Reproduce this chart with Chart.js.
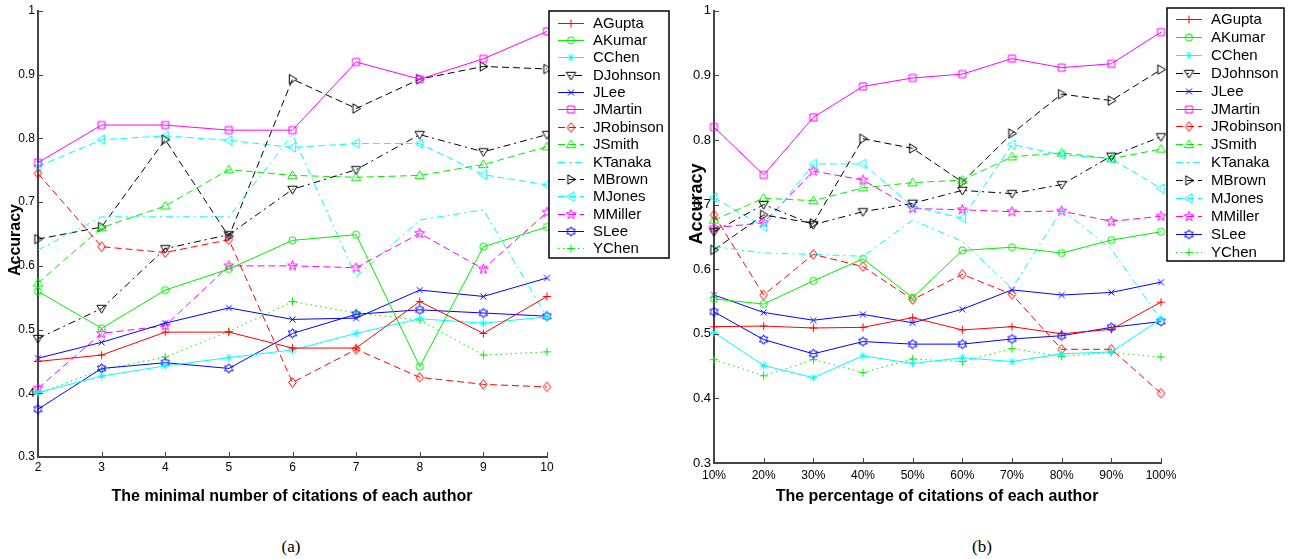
<!DOCTYPE html>
<html>
<head>
<meta charset="utf-8">
<script src="https://cdn.jsdelivr.net/npm/chart.js@4.4.1/dist/chart.umd.min.js"></script>
<style>
  body { margin: 0; background: #fff; width: 1294px; height: 559px; position: relative; overflow: hidden; }
  .panel { position: absolute; top: 0; height: 520px; }
  #pa { left: 0; width: 680px; }
  #pb { left: 680px; width: 614px; }
  .cap { position: absolute; top: 537px; transform: translateX(-50%);
         font-family: "Times New Roman", "Liberation Serif", serif; font-size: 17px; }
</style>
</head>
<body>
<div class="panel" id="pa"><canvas id="chartA"></canvas></div>
<div class="panel" id="pb"><canvas id="chartB"></canvas></div>
<div class="cap" style="left:291px">(a)</div>
<div class="cap" style="left:982px">(b)</div>
<script>
// --- data ---
const AUTHORS = ['AGupta', 'AKumar', 'CChen', 'DJohnson', 'JLee', 'JMartin', 'JRobinson',
  'JSmith', 'KTanaka', 'MBrown', 'MJones', 'MMiller', 'SLee', 'YChen'];

// (a) minimal number of citations of each author
const citeLabels = ['2', '3', '4', '5', '6', '7', '8', '9', '10'];
const AGupta_a    = [0.450, 0.460, 0.496, 0.496, 0.471, 0.471, 0.544, 0.494, 0.552];
const AKumar_a    = [0.560, 0.502, 0.562, 0.595, 0.640, 0.649, 0.442, 0.630, 0.661];
const CChen_a     = [0.401, 0.427, 0.443, 0.456, 0.468, 0.494, 0.517, 0.510, 0.520];
const DJohnson_a  = [0.486, 0.533, 0.627, 0.649, 0.720, 0.751, 0.806, 0.779, 0.806];
const JLee_a      = [0.455, 0.480, 0.510, 0.534, 0.516, 0.518, 0.562, 0.552, 0.581];
const JMartin_a   = [0.762, 0.821, 0.821, 0.813, 0.813, 0.920, 0.893, 0.925, 0.968];
const JRobinson_a = [0.745, 0.630, 0.621, 0.641, 0.417, 0.469, 0.425, 0.414, 0.410];
const JSmith_a    = [0.573, 0.660, 0.694, 0.751, 0.742, 0.739, 0.742, 0.759, 0.787];
const KTanaka_a   = [0.625, 0.677, 0.677, 0.677, 0.806, 0.583, 0.672, 0.688, 0.520];
const MBrown_a    = [0.642, 0.661, 0.798, 0.646, 0.893, 0.847, 0.893, 0.913, 0.909];
const MJones_a    = [0.756, 0.798, 0.804, 0.797, 0.786, 0.792, 0.792, 0.743, 0.727];
const MMiller_a   = [0.408, 0.494, 0.506, 0.600, 0.600, 0.597, 0.651, 0.595, 0.684];
const SLee_a      = [0.375, 0.439, 0.448, 0.439, 0.494, 0.524, 0.531, 0.526, 0.521];
const YChen_a     = [0.400, 0.437, 0.457, 0.497, 0.544, 0.526, 0.515, 0.460, 0.465];

// (b) percentage of citations of each author
const pctLabels = ['10%', '20%', '30%', '40%', '50%', '60%', '70%', '80%', '90%', '100%'];
const AGupta_b    = [0.511, 0.512, 0.509, 0.510, 0.525, 0.506, 0.511, 0.500, 0.507, 0.549];
const AKumar_b    = [0.554, 0.546, 0.582, 0.616, 0.556, 0.629, 0.634, 0.625, 0.645, 0.658];
const CChen_b     = [0.502, 0.451, 0.432, 0.466, 0.454, 0.463, 0.457, 0.469, 0.472, 0.523];
const DJohnson_b  = [0.658, 0.700, 0.669, 0.689, 0.702, 0.722, 0.717, 0.731, 0.775, 0.805];
const JLee_b      = [0.560, 0.533, 0.521, 0.530, 0.517, 0.538, 0.568, 0.560, 0.564, 0.580];
const JMartin_b   = [0.820, 0.746, 0.835, 0.883, 0.896, 0.902, 0.926, 0.912, 0.918, 0.967];
const JRobinson_b = [0.684, 0.560, 0.623, 0.604, 0.553, 0.592, 0.561, 0.476, 0.476, 0.408];
const JSmith_b    = [0.676, 0.710, 0.706, 0.726, 0.734, 0.738, 0.774, 0.780, 0.771, 0.786];
const KTanaka_b   = [0.635, 0.625, 0.623, 0.620, 0.676, 0.643, 0.570, 0.692, 0.631, 0.522];
const MBrown_b    = [0.630, 0.684, 0.671, 0.802, 0.787, 0.735, 0.810, 0.871, 0.861, 0.909];
const MJones_b    = [0.711, 0.666, 0.763, 0.763, 0.697, 0.679, 0.793, 0.777, 0.771, 0.725];
const MMiller_b   = [0.664, 0.672, 0.752, 0.738, 0.694, 0.692, 0.689, 0.690, 0.674, 0.682];
const SLee_b      = [0.534, 0.491, 0.469, 0.488, 0.484, 0.484, 0.492, 0.497, 0.510, 0.519];
const YChen_b     = [0.460, 0.435, 0.460, 0.440, 0.461, 0.457, 0.477, 0.465, 0.471, 0.464];

const valuesA = [AGupta_a, AKumar_a, CChen_a, DJohnson_a, JLee_a, JMartin_a, JRobinson_a,
  JSmith_a, KTanaka_a, MBrown_a, MJones_a, MMiller_a, SLee_a, YChen_a];
const valuesB = [AGupta_b, AKumar_b, CChen_b, DJohnson_b, JLee_b, JMartin_b, JRobinson_b,
  JSmith_b, KTanaka_b, MBrown_b, MJones_b, MMiller_b, SLee_b, YChen_b];

// --- matlab-like line specs ---
const DASH = [7, 4];
const DASHDOT = [7, 4, 2, 4];
const DOT = [1.5, 3.5];
const STYLE = {
  AGupta:    { color: '#ff0000', dash: [],      marker: 'plus' },
  AKumar:    { color: '#00ee00', dash: [],      marker: 'circle' },
  CChen:     { color: '#00ffff', dash: [],      marker: 'star' },
  DJohnson:  { color: '#000000', dash: DASHDOT, marker: 'triDown' },
  JLee:      { color: '#0000ff', dash: [],      marker: 'x' },
  JMartin:   { color: '#ff00ff', dash: [],      marker: 'square' },
  JRobinson: { color: '#ff0000', dash: DASH,    marker: 'diamond' },
  JSmith:    { color: '#00ee00', dash: DASH,    marker: 'triUp' },
  KTanaka:   { color: '#00ffff', dash: DASHDOT, marker: null },
  MBrown:    { color: '#000000', dash: DASH,    marker: 'triRight' },
  MJones:    { color: '#00ffff', dash: DASH,    marker: 'triLeft' },
  MMiller:   { color: '#ff00ff', dash: DASH,    marker: 'penta' },
  SLee:      { color: '#0000ff', dash: [],      marker: 'hexa' },
  YChen:     { color: '#00ee00', dash: DOT,     marker: 'plus' },
};

function starPts(n, ro, ri, start) {
  const pts = [];
  for (let k = 0; k < 2 * n; k++) {
    const r = k % 2 ? ri : ro;
    const a = start + k * Math.PI / n;
    pts.push([r * Math.cos(a), r * Math.sin(a)]);
  }
  return pts;
}

// unfilled marker drawn on a small canvas, used as pointStyle and in the legend
function markerCanvas(shape, color) {
  const s = 17, c = s / 2;
  const cv = document.createElement('canvas');
  cv.width = s; cv.height = s;
  const g = cv.getContext('2d');
  g.strokeStyle = color;
  g.lineWidth = 1;
  g.beginPath();
  const poly = (pts) => {
    pts.forEach((p, i) => (i ? g.lineTo(c + p[0], c + p[1]) : g.moveTo(c + p[0], c + p[1])));
    g.closePath();
  };
  const seg = (x1, y1, x2, y2) => { g.moveTo(c + x1, c + y1); g.lineTo(c + x2, c + y2); };
  switch (shape) {
    case 'plus': seg(-4, 0, 4, 0); seg(0, -4, 0, 4); break;
    case 'x': seg(-3, -3, 3, 3); seg(-3, 3, 3, -3); break;
    case 'star': seg(-4, 0, 4, 0); seg(0, -4, 0, 4); seg(-3, -3, 3, 3); seg(-3, 3, 3, -3); break;
    case 'circle': g.arc(c, c, 3.6, 0, Math.PI * 2); break;
    case 'square': g.rect(c - 3.5, c - 3.5, 7, 7); break;
    case 'diamond': poly([[0, -4.8], [3.8, 0], [0, 4.8], [-3.8, 0]]); break;
    case 'triUp': poly([[0, -4.6], [4.7, 3.2], [-4.7, 3.2]]); break;
    case 'triDown': poly([[0, 4.6], [4.7, -3.2], [-4.7, -3.2]]); break;
    case 'triRight': poly([[4.6, 0], [-3.2, 4.7], [-3.2, -4.7]]); break;
    case 'triLeft': poly([[-4.6, 0], [3.2, 4.7], [3.2, -4.7]]); break;
    case 'penta': poly(starPts(5, 5.2, 2.1, -Math.PI / 2)); break;
    case 'hexa': poly(starPts(6, 4.8, 2.8, -Math.PI / 2)); break;
  }
  g.stroke();
  return cv;
}

function buildDatasets(values) {
  return AUTHORS.map((name, i) => {
    const st = STYLE[name];
    return {
      label: name,
      data: values[i],
      borderColor: st.color,
      borderWidth: 1,
      borderDash: st.dash,
      pointStyle: st.marker ? markerCanvas(st.marker, st.color) : false,
      pointRadius: st.marker ? 4 : 0,
      pointHoverRadius: st.marker ? 4 : 0,
      tension: 0,
      fill: false,
      clip: false,
    };
  });
}

// axis titles, inward ticks and the boxed legend
Chart.register({
  id: 'figureDecor',
  afterDraw(chart, args, o) {
    const ctx = chart.ctx;
    const area = chart.chartArea;
    const xs = chart.scales.x, ys = chart.scales.y;
    ctx.save();
    // inward tick marks
    ctx.strokeStyle = '#444';
    ctx.lineWidth = 1;
    ctx.beginPath();
    chart.data.labels.forEach((_, i) => {
      const px = Math.round(xs.getPixelForValue(i)) + 0.5;
      ctx.moveTo(px, area.bottom);
      ctx.lineTo(px, area.bottom - 5);
    });
    ys.ticks.forEach((t) => {
      const py = Math.round(ys.getPixelForValue(t.value)) + 0.5;
      ctx.moveTo(area.left, py);
      ctx.lineTo(area.left + 5, py);
    });
    ctx.stroke();

    // axis titles
    ctx.fillStyle = '#000';
    ctx.textAlign = 'center';
    ctx.textBaseline = 'middle';
    ctx.font = 'bold 16px Arial, "Liberation Sans", sans-serif';
    ctx.fillText(o.xTitle, o.xTitleX, o.xTitleY);
    ctx.save();
    ctx.translate(o.yTitleX, o.yTitleY);
    ctx.rotate(-Math.PI / 2);
    ctx.font = o.yTitleFont;
    ctx.fillText('Accuracy', 0, 0);
    ctx.restore();

    // legend
    const L = o.legend;
    const bx = area.right + L.dx;
    ctx.fillStyle = '#fff';
    ctx.fillRect(bx, L.top, L.w, L.h);
    ctx.strokeStyle = '#000';
    ctx.lineWidth = 1.5;
    ctx.strokeRect(bx, L.top, L.w, L.h);
    ctx.font = '15px Arial, "Liberation Sans", sans-serif';
    ctx.textAlign = 'left';
    chart.data.datasets.forEach((ds, i) => {
      const y = Math.round(L.first + i * L.step) + 0.5;
      ctx.strokeStyle = ds.borderColor;
      ctx.lineWidth = 1;
      ctx.setLineDash(ds.borderDash);
      ctx.beginPath();
      ctx.moveTo(bx + 9, y);
      ctx.lineTo(bx + 35, y);
      ctx.stroke();
      ctx.setLineDash([]);
      if (ds.pointStyle) {
        const m = ds.pointStyle;
        ctx.drawImage(m, bx + 22 - m.width / 2, y - m.height / 2);
      }
      ctx.fillStyle = '#000';
      ctx.fillText(ds.label, bx + 44, y);
    });
    ctx.restore();
  },
});

Chart.defaults.font.family = 'Arial, "Liberation Sans", Helvetica, sans-serif';
Chart.defaults.color = '#000';
Chart.defaults.animation = false;

function makeChart(id, labels, values, cfg) {
  return new Chart(document.getElementById(id), {
    type: 'line',
    data: { labels, datasets: buildDatasets(values) },
    options: {
      responsive: true,
      maintainAspectRatio: false,
      layout: { padding: { left: 0, right: cfg.padRight, top: cfg.padTop, bottom: 0 } },
      plugins: {
        legend: { display: false },
        tooltip: { enabled: false },
        figureDecor: cfg.decor,
      },
      scales: {
        x: {
          offset: false,
          grid: { display: false, drawTicks: false },
          border: { display: true, color: '#444', width: 2 },
          ticks: { autoSkip: false, maxRotation: 0, padding: cfg.xPad, font: { size: cfg.xFont } },
          afterFit: (s) => { s.height = cfg.xHeight; },
        },
        y: {
          min: 0.3,
          max: 1,
          grid: { display: false, drawTicks: false },
          border: { display: true, color: '#444', width: 2 },
          ticks: { stepSize: 0.1, padding: 3, font: { size: cfg.yFont },
                   callback: (v) => String(+v.toFixed(1)) },
          afterFit: (s) => { s.width = cfg.yWidth; },
        },
      },
    },
  });
}

makeChart('chartA', citeLabels, valuesA, {
  padRight: 133, padTop: 11, xHeight: 63, yWidth: 38, xPad: 3, xFont: 12, yFont: 12,
  decor: {
    xTitle: 'The minimal number of citations of each author', xTitleX: 292, xTitleY: 497,
    yTitleX: 16, yTitleY: 240, yTitleFont: 'bold 16px Arial, "Liberation Sans", sans-serif',
    legend: { dx: 2, top: 11, w: 120, h: 247, first: 22.7, step: 17.35 },
  },
});

makeChart('chartB', pctLabels, valuesB, {
  padRight: 133, padTop: 8, xHeight: 57, yWidth: 34, xPad: 5, xFont: 12, yFont: 13,
  decor: {
    xTitle: 'The percentage of citations of each author', xTitleX: 257, xTitleY: 497,
    yTitleX: 17, yTitleY: 204, yTitleFont: 'bold 18px Arial, "Liberation Sans", sans-serif',
    legend: { dx: 6, top: 8, w: 117, h: 253, first: 19, step: 17.9 },
  },
});
</script>
</body>
</html>
